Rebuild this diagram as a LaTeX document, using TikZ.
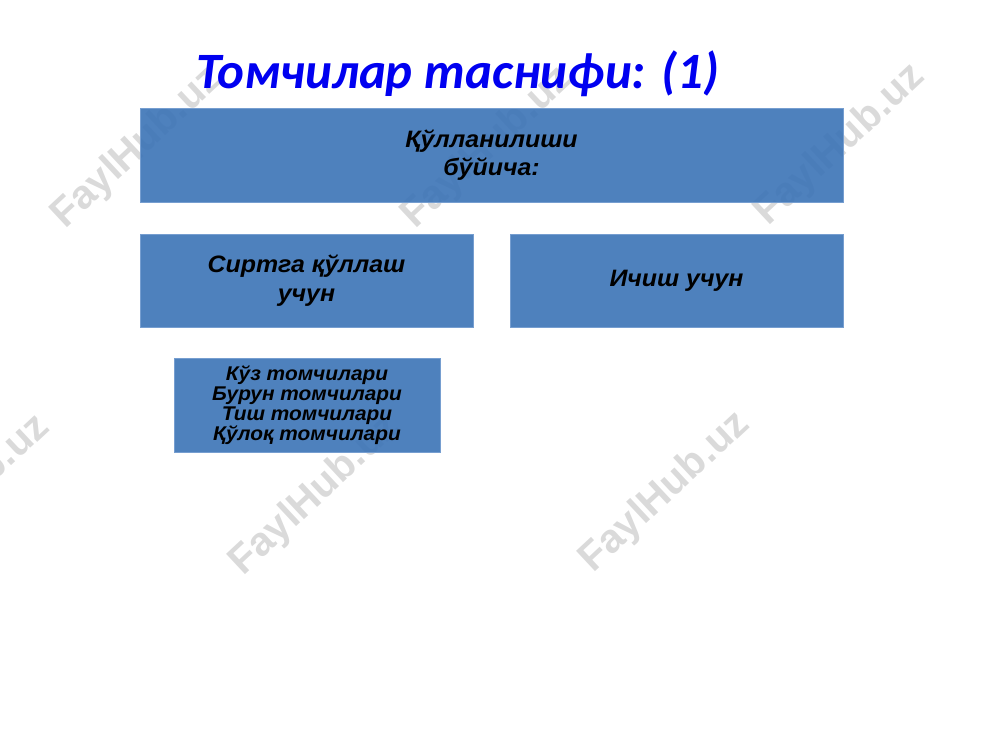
\documentclass[tikz,border=0pt]{standalone}
\usepackage{fontspec}
\setmainfont{Liberation Sans}
\newfontfamily\titlefont{Carlito}
\newfontfamily\boxfont[FakeStretch=1.05]{Liberation Sans}
\definecolor{boxBlue}{RGB}{59,115,182}
\definecolor{edgeBlue}{RGB}{118,158,208}
\definecolor{titleBlue}{RGB}{0,0,240}
\definecolor{markGray}{RGB}{218,218,218}
\tikzset{
    blueBox/.style={rectangle, fill=boxBlue, fill opacity=0.9, text opacity=1,
        draw=edgeBlue, line width=0.4pt, align=center, inner sep=0pt},
    waterMark/.style={text=markGray, rotate=43,
        font=\bfseries\fontsize{23}{23}\selectfont}
}
\begin{document}
\begin{tikzpicture}
\def\pxScale{0.02}
\useasboundingbox (0,0) rectangle (20,-15);
% watermarks
\foreach \x/\y [count=\k] in {137/148, 487/148, 840/145, -35/495, 315/495, 665/492} {
    \node[waterMark] (mark\k) at (\x*\pxScale, -\y*\pxScale) {FaylHub.uz};
}
% title
\node[anchor=base, text=titleBlue, font=\titlefont\bfseries\itshape\fontsize{29}{32}\selectfont] (title) at (9.15,-1.76) {Томчилар таснифи: (1)};
% boxes
\node[blueBox, minimum width=14.06cm, minimum height=1.88cm, font=\boxfont\bfseries\itshape\fontsize{13.5}{16}\selectfont] (use) at (9.83,-3.10) {Қўлланилиши\\бўйича:};
\node[blueBox, minimum width=6.66cm, minimum height=1.86cm, font=\boxfont\bfseries\itshape\fontsize{13.5}{16.4}\selectfont] (outer) at (6.13,-5.61) {Сиртга қўллаш\\учун};
\node[blueBox, minimum width=6.66cm, minimum height=1.86cm, font=\boxfont\bfseries\itshape\fontsize{13.5}{16.4}\selectfont] (inner) at (13.53,-5.61) {Ичиш учун};
\node[blueBox, minimum width=5.32cm, minimum height=1.88cm, font=\boxfont\bfseries\itshape\fontsize{11.3}{11.4}\selectfont] (drops) at (6.14,-8.10) {Кўз томчилари\\Бурун томчилари\\Тиш томчилари\\Қўлоқ томчилари};
\end{tikzpicture}
\end{document}
